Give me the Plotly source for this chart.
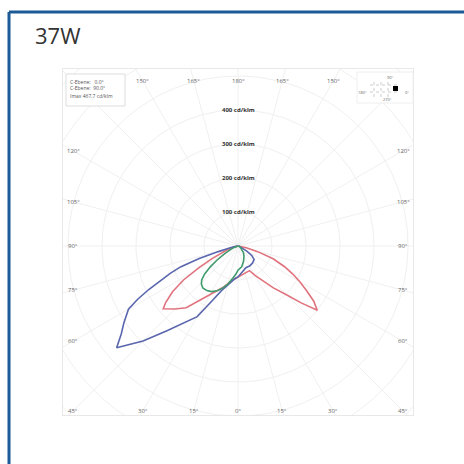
import numpy as np
import plotly.graph_objects as go

# ---------------- data (cd/klm) ----------------
gamma_red_left = [0, 10, 20, 30, 40, 45, 50, 52, 55, 58, 61, 64, 67, 70, 75, 80, 90]
red_left = [91, 103, 130, 166, 237, 262, 287, 270, 235, 190, 130, 85, 55, 35, 15, 6, 0]
gamma_red_right = [0, 10, 20, 25, 30, 35, 40, 45, 48, 51, 54, 57, 60, 63, 66, 70, 74, 78, 82, 90]
red_right = [91, 85, 80, 80, 100, 125, 160, 205, 250, 300, 275, 240, 210, 180, 150, 110, 60, 25, 10, 0]

gamma_blue_left = [0, 5, 10, 15, 20, 25, 30, 35, 40, 45, 48, 50, 53, 56, 60, 62, 64, 66, 68, 70, 72, 74, 76, 80, 85, 90]
blue_left = [91, 96, 106, 120, 138, 175, 240, 276, 325, 395, 435, 466, 430, 405, 372, 335, 292, 250, 215, 180, 120, 60, 28, 10, 3, 0]
gamma_blue_right = [0, 10, 20, 30, 40, 50, 55, 60, 70, 80, 90]
blue_right = [91, 78, 68, 68, 66, 62, 50, 30, 10, 3, 0]

gamma_green_left = [0, 5, 10, 15, 20, 25, 30, 35, 40, 44, 47, 50, 53, 56, 60, 65, 70, 80, 90]
green_left = [71, 85, 100, 117, 132, 145, 155, 160, 161, 155, 146, 128, 102, 75, 45, 22, 10, 3, 0]
gamma_green_right = [0, 10, 20, 30, 40, 50, 60, 70, 80, 90]
green_right = [71, 62, 48, 35, 25, 15, 8, 4, 1, 0]

ring_values = [100, 200, 300, 400, 500, 600, 700]
ring_labels = ["100 cd/klm", "200 cd/klm", "300 cd/klm", "400 cd/klm"]
angle_ticks = [0, 15, 30, 45, 60, 75, 90, 105, 120, 150, 165, 180]

legend_lines = ["C-Ebene:   0.0°", "C-Ebene:  90.0°", "Imax 467.7 cd/klm"]
title_text = "37W"

# ---------------- geometry helpers ----------------
W = H = 464
PX = 0.34           # pixels per cd/klm
CX, CY = 238, 246   # origin in pixels
X0, X1, Y0, Y1 = 63, 413, 69, 415
xr = [(X0 - CX) / PX, (X1 - CX) / PX]
yr = [-(Y1 - CY) / PX, (CY - Y0) / PX]


def curve(gl, vl, gr, vr):
    gl = np.radians(np.array(gl, float)); vl = np.array(vl, float)
    gr = np.radians(np.array(gr, float)); vr = np.array(vr, float)
    xl = -vl * np.sin(gl); yl = -vl * np.cos(gl)
    xR = vr * np.sin(gr); yR = -vr * np.cos(gr)
    x = np.concatenate([xl[::-1], xR[1:]])
    y = np.concatenate([yl[::-1], yR[1:]])
    return x, y


fig = go.Figure()

GRID = "#f0f0f0"
# grid circles
th = np.linspace(0, 2 * np.pi, 361)
for r in ring_values:
    fig.add_trace(go.Scatter(x=r * np.cos(th), y=r * np.sin(th), mode="lines",
                             line=dict(color=GRID, width=1), hoverinfo="skip", showlegend=False))
# radial grid lines
gx, gy = [], []
for a in range(0, 360, 15):
    ar = np.radians(a)
    gx += [0, 1000 * np.sin(ar), None]
    gy += [0, -1000 * np.cos(ar), None]
fig.add_trace(go.Scatter(x=gx, y=gy, mode="lines", line=dict(color=GRID, width=1),
                         hoverinfo="skip", showlegend=False))

# curves
for (gl, vl, gr, vr, col) in [
    (gamma_red_left, red_left, gamma_red_right, red_right, "#e0737d"),
    (gamma_blue_left, blue_left, gamma_blue_right, blue_right, "#5a66ad"),
    (gamma_green_left, green_left, gamma_green_right, green_right, "#3f9a6c"),
]:
    x, y = curve(gl, vl, gr, vr)
    fig.add_trace(go.Scatter(x=x, y=y, mode="lines", line=dict(color=col, width=1.6),
                             hoverinfo="skip", showlegend=False))

ann = []
# ring labels
for r, t in zip(ring_values, ring_labels):
    ann.append(dict(x=0, y=r, xref="x", yref="y", text="<b>%s</b>" % t, showarrow=False,
                    font=dict(family="Open Sans", size=6, color="#333333"),
                    xanchor="center", yanchor="middle"))
# angle labels
S = 165 / PX
for g in angle_ticks:
    gr_ = np.radians(g)
    sides = [1] if g in (0, 180) else [-1, 1]
    for sgn in sides:
        sx, cy = np.sin(gr_), np.cos(gr_)
        t = S / max(abs(sx), abs(cy))
        ann.append(dict(x=sgn * t * sx, y=-t * cy, xref="x", yref="y", text="%d°" % g,
                        showarrow=False, font=dict(family="Open Sans", size=6, color="#666666"),
                        xanchor="center", yanchor="middle"))
# title
ann.append(dict(x=33 / W, y=1 - 35 / H, xref="paper", yref="paper", text=title_text,
                showarrow=False, xanchor="left", yanchor="middle",
                font=dict(family="Open Sans", size=22, color="#333333")))
# legend box lines
for i, (t, py) in enumerate(zip(legend_lines, [82, 88, 96])):
    ann.append(dict(x=68 / W, y=1 - py / H, xref="paper", yref="paper", text=t, showarrow=False,
                    xanchor="left", yanchor="middle",
                    font=dict(family="Open Sans", size=5, color="#555555")))
# orientation icon labels
for t, px, py in [("90°", 390, 77), ("180°", 362, 92), ("0°", 407, 92), ("270°", 387, 100)]:
    ann.append(dict(x=px / W, y=1 - py / H, xref="paper", yref="paper", text=t, showarrow=False,
                    xanchor="center", yanchor="middle",
                    font=dict(family="Open Sans", size=4, color="#666666")))

shapes = [
    # outer blue border (top + left)
    dict(type="line", xref="paper", yref="paper", x0=9 / W, x1=1.0, y0=1 - 12 / H, y1=1 - 12 / H,
         line=dict(color="#1c5a97", width=3)),
    dict(type="line", xref="paper", yref="paper", x0=9 / W, x1=9 / W, y0=1 - 12 / H, y1=0,
         line=dict(color="#1c5a97", width=3)),
    # legend box
    dict(type="rect", xref="paper", yref="paper", x0=66 / W, x1=125 / W, y0=1 - 106 / H, y1=1 - 74 / H,
         line=dict(color="#dddddd", width=1), fillcolor="white"),
    # icon box
    dict(type="rect", xref="paper", yref="paper", x0=357 / W, x1=413 / W, y0=1 - 103 / H, y1=1 - 72 / H,
         line=dict(color="#eeeeee", width=1), fillcolor="white"),
]
for vx in [374, 381, 388]:
    shapes.append(dict(type="line", xref="paper", yref="paper", x0=vx / W, x1=vx / W,
                       y0=1 - 97 / H, y1=1 - 81 / H, line=dict(color="#cccccc", width=1, dash="dot")))
for hy in [85, 92]:
    shapes.append(dict(type="line", xref="paper", yref="paper", x0=370 / W, x1=399 / W,
                       y0=1 - hy / H, y1=1 - hy / H, line=dict(color="#cccccc", width=1, dash="dot")))
shapes.append(dict(type="rect", xref="paper", yref="paper", x0=393 / W, x1=398 / W,
                   y0=1 - 91 / H, y1=1 - 86 / H, line=dict(width=0), fillcolor="black"))

fig.update_layout(
    width=W, height=H, margin=dict(l=0, r=0, t=0, b=0),
    paper_bgcolor="white", plot_bgcolor="white",
    xaxis=dict(domain=[X0 / W, X1 / W], range=xr, showgrid=False, zeroline=False,
               showticklabels=False, showline=True, mirror=True, linecolor="#e8e8e8", fixedrange=True),
    yaxis=dict(domain=[1 - Y1 / H, 1 - Y0 / H], range=yr, showgrid=False, zeroline=False,
               showticklabels=False, showline=True, mirror=True, linecolor="#e8e8e8", fixedrange=True),
    annotations=ann, shapes=shapes, showlegend=False,
)

fig.write_html("out.html", config={"displayModeBar": False},
               post_script="document.body.style.margin='0';document.body.style.overflow='hidden';")
